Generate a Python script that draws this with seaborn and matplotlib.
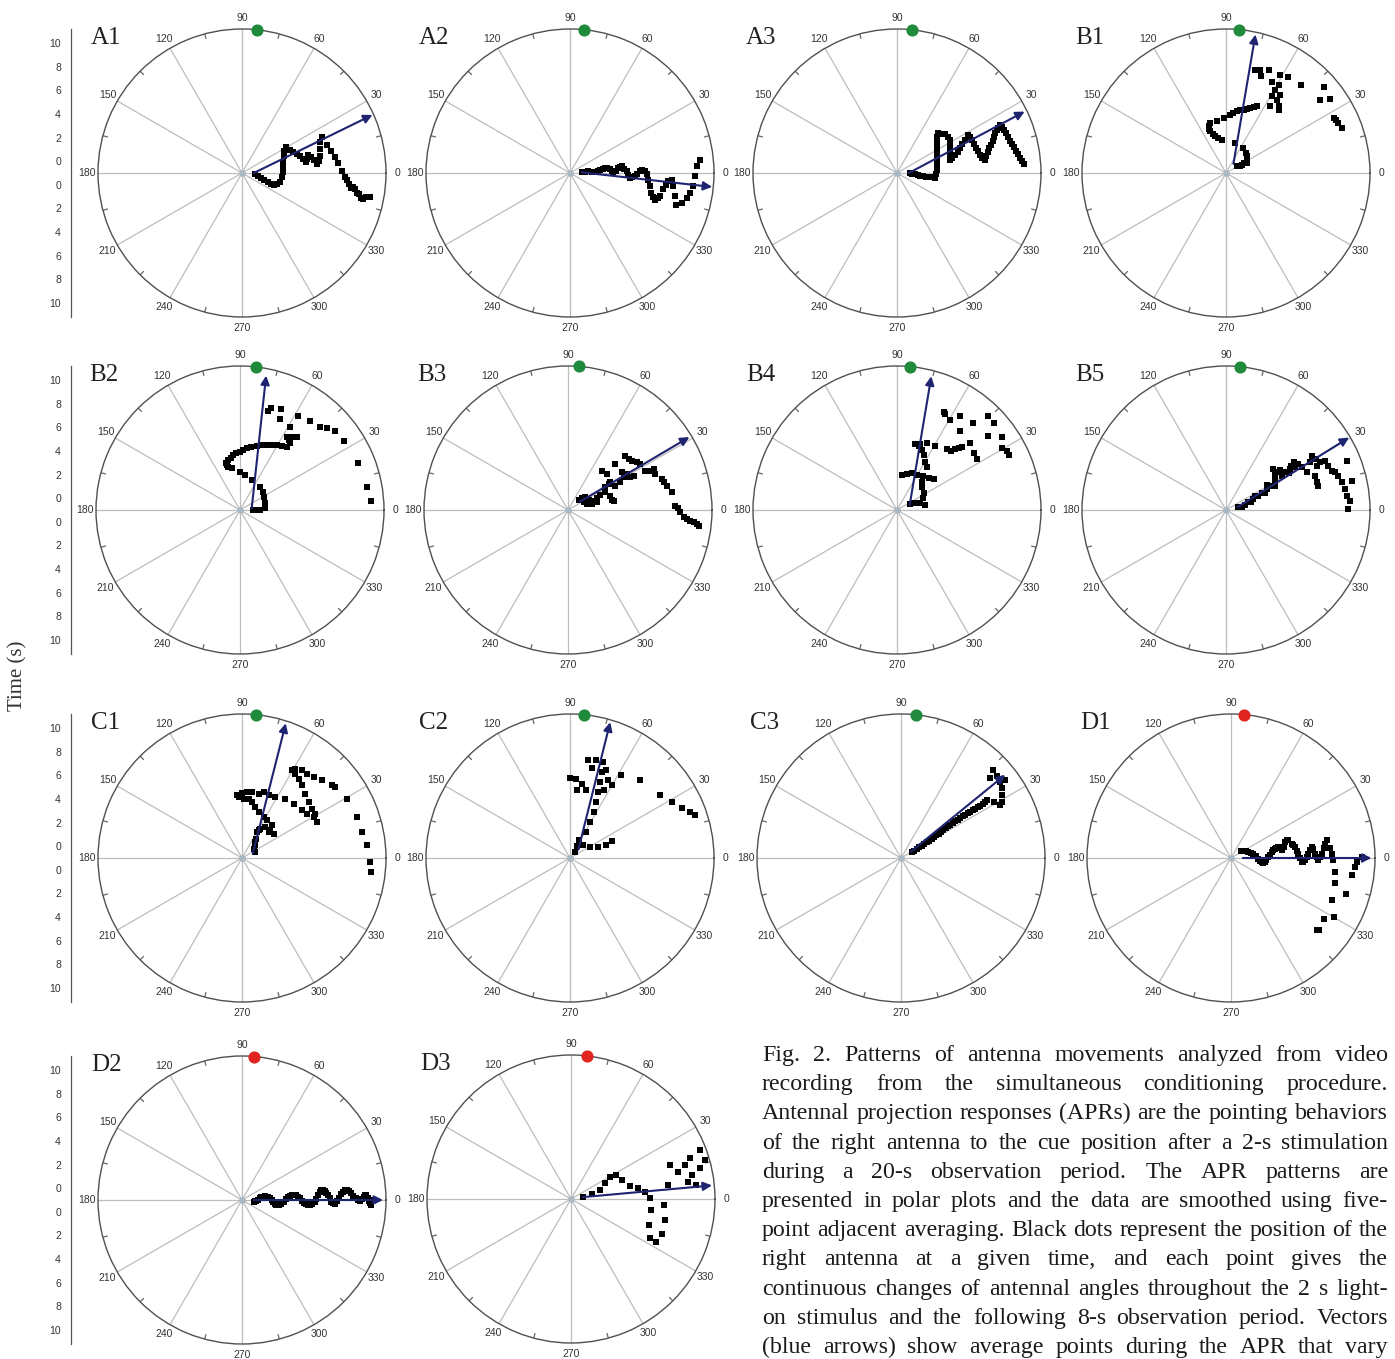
import numpy as np
import matplotlib
matplotlib.use("Agg")
import matplotlib.pyplot as plt
import seaborn as sns

# -----------------------------
# Data: antenna angle (deg) and time (s) for each panel
# -----------------------------

a1_t = [0.1, 0.4, 0.7, 1.0, 1.3, 1.6, 1.9, 2.1, 2.3, 2.4,
        2.45, 2.5, 2.6, 2.8, 3.0, 3.3, 3.5, 3.7, 3.9, 4.1,
        4.3, 4.5, 4.6, 4.8, 5.0, 5.2, 5.4, 5.6, 5.75, 5.9,
        6.1, 6.4, 6.6, 6.8, 7.0, 7.2, 7.45, 7.7, 7.9, 8.1,
        8.3, 8.5, 8.7, 8.9, 9.1, 9.3, 9.5, 9.7, 10.0]
a1_ang = [-3, -10, -15, -18, -20, -21, -20, -18, -13, -6,
          2, 8, 15, 22, 28, 31, 26, 22, 19, 16,
          13, 10, 12, 15, 13, 10, 7, 9, 12, 17,
          22, 24, 18, 14, 10, 6, 1, -2, -4, -6,
          -8, -7, -8, -10, -10, -12, -12, -11, -10.5]

a2_t = [0.0, 0.3, 0.56, 0.85, 1.12, 1.35, 1.56, 1.8, 2.0, 2.2,
        2.4, 2.55, 2.67, 2.9, 3.1, 3.25, 3.4, 3.6, 3.8, 3.95,
        4.1, 4.3, 4.5, 4.7, 4.9, 5.1, 5.36, 5.5, 5.66, 5.9,
        6.1, 6.3, 6.55, 6.75, 6.9, 7.0, 7.2, 7.36, 7.64, 7.8,
        8.1, 8.4, 8.8, 9.1, 9.3, 9.45, 9.6, 9.75, 10.1]
a2_ang = [3, 4, 5, 3, 2, 4, 6, 7, 8, 7,
          6, 3, 0, 3, 6, 7, 7.4, 4, 1.7, -2,
          -4.8, -4, -3, -1, 1.4, 2, 1.3, -1, -4.9, -9,
          -13.8, -16, -17.4, -16, -14.5, -10, -7, -4.8, -3.7, -7.4,
          -12.5, -16.5, -15, -12, -9.5, -6.2, -1.5, 3, 5.9]

a3_t = [0.07, 0.3, 0.5, 0.75, 1.0, 1.25, 1.5, 1.75, 2.0, 2.25,
        2.3, 2.4, 2.48, 2.56, 2.7, 2.9, 3.15, 3.4, 3.6, 3.85,
        4.05, 4.24, 4.3, 4.3, 4.1, 3.9, 3.75, 3.63, 3.85, 4.15,
        4.45, 4.74, 5.05, 5.4, 5.83, 5.9, 5.94, 6.0, 6.02, 6.1,
        6.2, 6.35, 6.54, 6.7, 6.9, 7.1, 7.3, 7.55, 7.77, 8.0,
        8.2, 8.4, 8.63, 8.7, 8.77, 8.83, 8.9, 8.98, 9.05, 9.15,
        9.26, 9.38, 9.5, 9.65, 9.8]
a3_ang = [0, -2, -4, -5.5, -7, -7.5, -8, -7.5, -6, -7.5,
          -1, 4, 11, 18, 24, 30, 35, 39.5, 42, 44,
          41.5, 39, 35, 32, 27.5, 23.5, 18.5, 13.8, 15.5, 17,
          19.5, 21.6, 24, 25.9, 28.2, 26, 23.7, 20.5, 17.6, 15,
          12.2, 10, 8.4, 10.5, 13, 15, 16.6, 18.5, 20.4, 22,
          23.3, 24.2, 25, 23.5, 21.9, 20, 18, 16, 14.2, 12.3,
          10.5, 8.7, 7, 5.5, 4]

b1_t = [0.12, 0.3, 0.53, 0.75, 0.97, 1.1, 1.27, 1.4, 1.56, 1.66,
        1.85, 2.0, 2.24, 2.5, 2.77, 3.0, 3.2, 3.4, 3.45, 3.67,
        3.96, 4.1, 4.3, 4.45, 4.57, 4.7, 4.88, 5.05, 5.23, 6.58,
        7.2, 7.08, 6.57, 6.2, 5.98, 5.78, 8.1, 8.18, 7.77, 8.47,
        8.52, 8.67, 7.62, 7.7, 8.8, 10.07, 9.05, 9.84, 9.25, 9.33,
        9.37, 9.55]
b1_ang = [33.7, 28, 27.5, 30, 25.5, 30, 38.4, 45, 55.8, 72.7,
          96.8, 103, 106, 109, 110.6, 111, 110, 107.4, 99.9, 92.4,
          85.8, 83, 79.9, 77, 74.4, 72, 69.5, 67, 65, 59,
          59.4, 55.3, 55.2, 51.7, 50.3, 56.4, 74.2, 71.5, 70.2, 67.6,
          61, 57.3, 63, 59.2, 49.7, 41.2, 37.8, 35.3, 27, 25.6,
          24.1, 21.2]

b2_t = [0.13, 0.4, 0.7, 1.12, 1.19, 1.35, 1.47, 1.6, 1.73, 2.0,
        2.25, 2.6, 2.8, 2.98, 3.15, 3.35, 3.5, 3.7, 3.8, 3.94,
        4.1, 4.26, 4.4, 4.6, 4.8, 4.95, 5.1, 5.3, 5.5, 5.67,
        6.06, 6.2, 6.37, 6.6, 6.85, 7.23, 8.38, 7.45, 7.76, 8.0,
        8.2, 8.62, 8.79, 9.09, 9.49, 9.62, 9.78, 9.9, 10.1]
b2_ang = [0, 0, 0, 3.8, 15, 28.7, 39, 49.4, 68.7, 81.9,
          90, 101, 105, 106.5, 106, 103, 100, 97, 94, 90,
          87, 83.8, 80, 75.4, 71, 67.7, 64, 60.6, 57, 53.6,
          53.1, 55, 57.5, 54, 52.3, 59, 58.2, 66.3, 74, 73.2,
          68, 51.9, 46.2, 43.3, 39.9, 33.6, 21.5, 10.4, 4.1]

b3_t = [0.28, 0.56, 0.85, 0.95, 1.31, 1.66, 2.03, 2.5, 2.79, 2.95,
        2.7, 3.09, 3.4, 3.5, 4.6, 3.28, 3.51, 4.02, 4.47, 4.58,
        4.86, 4.96, 5.28, 5.69, 5.72, 5.85, 6.11, 6.27, 6.35, 6.73,
        7.05, 7.0, 7.39, 7.44, 7.64, 7.94, 8.1, 8.32, 8.52, 8.82,
        9.11, 9.4, 9.7, 10.0, 10.15, 0.48, 0.69, 1.1, 1.54, 2.82]
b3_ang = [41.4, 40.6, 37.6, 25.8, 20, 22.5, 25.4, 25.3, 18.7, 11.5,
          31.3, 32.6, 49.2, 42.7, 44.2, 33.2, 27.2, 27.9, 30.4, 34.9,
          31.4, 27.7, 27.6, 43.5, 40, 37.6, 34.6, 32.5, 27, 25.5,
          25.6, 22.4, 18.3, 16.1, 13.8, 9.6, 2.3, 1.0, -1.2, -3.6,
          -4.3, -5, -5.6, -6.2, -6.8, 26, 17.5, 14, 14.8, 12.8]

b4_t = [0.24, 0.52, 0.8, 1.06, 1.44, 1.41, 1.66, 1.9, 2.2, 2.0,
        2.17, 2.36, 2.42, 2.63, 2.8, 3.05, 3.47, 3.75, 4.18, 4.5,
        4.73, 4.8, 4.93, 5.2, 5.32, 5.66, 5.8, 6.13, 6.43, 6.69,
        7.4, 7.08, 7.03, 8.22, 8.11, 7.84, 8.57, 7.6, 8.81, 10.07,
        10.04, 8.94, 9.82, 9.32, 9.59, 9.55]
b4_ang = [24.2, 21.8, 20.1, 16, 10, 24.2, 32, 43, 48.6, 81.9,
          74.5, 67.8, 60.3, 52.6, 45, 39.9, 55.3, 59.6, 64.1, 67.4,
          71.3, 74.5, 70.5, 65.8, 59.1, 50.5, 47.7, 46.1, 45.3, 44.3,
          42.3, 36.5, 32.3, 64.6, 63.3, 59.7, 56.3, 51.4, 49, 46,
          42.1, 39.3, 34.7, 30.4, 28.3, 26.2]

b5_t = [0.07, 0.36, 0.67, 1.0, 1.5, 2.0, 2.33, 2.88, 3.38, 3.84,
        4.3, 4.46, 4.54, 4.93, 5.44, 5.88, 6.27, 6.36, 6.55, 7.18,
        7.6, 7.77, 7.55, 7.08, 7.03, 7.09, 7.93, 8.37, 8.45, 8.56,
        8.77, 8.95, 9.08, 9.24, 9.3, 9.54, 9.37, 10.03, 9.92, 1.25,
        1.75, 2.6, 3.1, 3.6, 4.1, 4.7, 5.2, 5.65, 6.05]
b5_ang = [12, 12, 15.7, 18.9, 21.9, 23.9, 25, 27.3, 28, 30.9,
          40.9, 35.7, 31.7, 32.6, 32.6, 31.7, 32.5, 29.4, 25, 29.6,
          32.4, 29.5, 26, 21.1, 17, 14.8, 26.9, 26.5, 23.4, 20.4,
          19.1, 17, 13.5, 10, 6.8, 4.3, 0.5, 22, 12.9, 17,
          25, 24, 31, 26, 35, 36, 30, 34, 35]

c1_t = [0.19, 0.27, 0.56, 0.73, 1.02, 1.54, 1.74, 1.93, 2.29, 2.16,
        2.36, 2.38, 2.8, 2.83, 2.93, 3.15, 3.47, 3.82, 4.06, 4.03,
        4.18, 4.33, 4.54, 4.61, 4.66, 4.63, 4.89, 4.77, 4.89, 5.23,
        5.35, 5.5, 5.67, 6.0, 6.05, 6.26, 6.26, 6.38, 6.65, 6.99,
        7.26, 7.45, 7.55, 7.82, 8.0, 8.02, 8.16, 8.45, 8.8, 8.94,
        9.22, 9.35, 9.4, 9.65, 9.88, 10.03]
c1_ang = [25.3, 38.7, 43.5, 51.6, 54, 60, 59, 58, 53, 44.3,
          44.3, 37.5, 48, 56.4, 62.1, 70.1, 75.3, 79.9, 83.6, 88.4,
          93.1, 94.6, 90, 85.7, 81.4, 75.5, 71.8, 66.9, 61.3, 53.9,
          46.4, 38.5, 34.3, 29.8, 25.6, 31.2, 35.2, 40, 45.5, 50.5,
          54.5, 57.7, 60.3, 59.2, 55.6, 52.4, 48.5, 44.2, 38.9, 37.3,
          29.5, 19.6, 12.2, 5.8, -1.8, -6.2]

c2_t = [-0.3, 0.18, 0.7, 0.56, 0.93, 1.55, 2.24, 2.84, 1.59, 2.49,
        3.4, 4.23, 5.08, 5.92, 6.78, 7.6, 7.59, 7.44, 6.85, 5.78,
        5.71, 5.35, 4.92, 4.8, 7.05, 6.35, 5.44, 6.14, 7.26, 7.88,
        8.31, 8.86, 9.4, 9.89, 10.2]
c2_ang = [50, 60, 63, 45, 29, 21.4, 19.9, 22, 58.4, 61,
          62.4, 65.1, 67, 68.5, 69.6, 71, 75.1, 79.6, 76.3, 90,
          85.7, 80.8, 76.8, 84, 67.7, 64, 63.4, 60.1, 58.4, 48.1,
          35, 28.8, 24, 21, 19]

c3_t = [0.06, 0.3, 0.55, 0.8, 1.05, 1.3, 1.55, 1.8, 2.05, 2.3,
        2.55, 2.8, 3.05, 3.3, 3.55, 3.8, 4.05, 4.3, 4.55, 4.8,
        5.05, 5.3, 5.55, 5.8, 6.05, 6.3, 6.55, 6.8, 7.05, 7.3,
        7.55, 7.8, 8.2, 8.5, 8.8, 9.1, 9.4, 9.58, 9.8, 9.14,
        10.0, 9.7]
c3_ang = [28.6, 29, 29.5, 30, 30.5, 31, 31.3, 31.6, 32, 32.3,
          32.6, 33, 33.2, 33.4, 33.6, 33.8, 34, 34, 34, 34,
          34, 34, 33.8, 33.7, 33.6, 33.5, 33.4, 33.4, 33.5, 33.6,
          33.7, 33.8, 31, 28, 29, 32, 35, 37.5, 43.7, 42,
          36.9, 40.5]

d1_t = [0.0, 0.2, 0.55, 0.93, 1.32, 1.62, 1.9, 2.16, 2.48, 2.81,
        3.12, 3.34, 3.77, 4.08, 4.28, 4.5, 4.72, 5.0, 5.27, 5.56,
        5.9, 6.13, 6.4, 6.7, 7.06, 7.25, 7.43, 7.67, 7.9, 8.06,
        8.23, 9.06, 8.43, 8.64, 8.55, 9.2, 9.33, 9.54, 9.71, 10.07,
        0.4, 0.75, 1.1, 1.45, 1.75, 2.0, 2.3, 2.65, 2.95, 3.25,
        3.55, 3.95, 4.4, 4.6, 4.85, 5.15, 5.4, 5.75, 6.0, 6.25,
        6.55, 6.9, 7.55]
d1_ang = [33.7, 29.6, 19, 11, -1.4, -7.4, -6.7, 1.5, 8.4, 12,
          13.1, 8.6, 16.5, 17.1, 13.3, 9.8, 3.7, -3.2, -1.8, 3.2,
          7.8, 3, -1.5, 2.7, 8.7, 10.5, 6, -1.3, -7.7, -13.5,
          -22.5, -29.8, -33.3, -39, -40, -17.2, -8.2, -4.2, -1.8, 0.4,
          24, 15, 5, -5, -8, -3, 5, 10.5, 13, 11,
          12, 17.5, 11.5, 6.5, 0, -3, 0.5, 6, 6, 0.5,
          0.5, 6, 2]

d2_t = [0.0, 0.22, 0.5, 0.8, 1.08, 1.35, 1.63, 1.94, 2.35, 2.76,
        3.05, 3.4, 3.75, 4.11, 4.46, 4.8, 5.16, 5.45, 5.78, 6.05,
        6.3, 6.57, 6.86, 7.22, 7.59, 7.94, 8.28, 8.63, 8.97, 9.31,
        9.55, 9.76, 9.97, 10.05, 0.1, 0.35, 0.65, 0.95, 1.2, 1.5,
        1.8, 2.15, 2.55, 2.9, 3.22, 3.58, 3.93, 4.28, 4.63, 4.98,
        5.3, 5.62, 5.92, 6.18, 6.43, 6.72, 7.04, 7.4, 7.77, 8.1,
        8.45, 8.8, 9.14, 9.43, 9.65, 9.86]
d2_ang = [-8.6, -2.7, 5.4, 9, 7.8, 3.4, -3.1, -8.3, -5.8, 0.9,
          4.8, 5.5, 3.4, -0.6, -3.6, -4.2, -1.3, 3.8, 7.2, 6.4,
          3.3, -1.1, -2.5, 1, 4.7, 5.4, 3.5, 0.8, -0.3, 1.6,
          2.3, -0.3, -2.2, 0, -6, 1.5, 7.5, 9, 6, 0,
          -6.5, -7.5, -3, 3.2, 5.5, 4.8, 1.5, -2.3, -4.2, -3,
          1, 6, 7.3, 5, 1, -2, -0.8, 3.2, 5.3, 4.6,
          2.2, 0, 0.6, 2.2, 1, -1.5]

d3_t = [0.03, 0.83, 1.58, 2.2, 2.8, 3.32, 3.6, 4.1, 4.75, 5.3,
        5.7, 5.85, 5.97, 6.47, 7.07, 7.26, 7.16, 6.9, 7.3, 7.87,
        8.35, 9.08, 9.67, 9.45, 9.66, 10.2, 10.8, 10.7, 9.0]
d3_ang = [9.5, 13, 17, 25, 29.4, 28, 20.4, 12.4, 9.3, 5.4,
          0.7, -7.8, -18.4, -26.3, -26.8, -21, -12.6, -3.7, 8.2, 19,
          14.2, 16.6, 19, 11.2, 6.4, 13.5, 16.2, 20.8, 8.3]

panel_names = ["A1", "A2", "A3", "B1", "B2", "B3", "B4", "B5",
               "C1", "C2", "C3", "D1", "D2", "D3"]

# mean vector: start angle, start time, end angle, end time
arrow_start_ang = [0, 3, 0, 51, 8, 35, 21, 14, 23, 45, 33, 0, 0, 9]
arrow_start_t = [0, 0, 0, 0, 0, 0.2, 0.15, 0, 0, 0, 0, 0, 0, 0]
arrow_end_ang = [24, -5.6, 25.7, 78, 79, 31, 75.6, 30.5, 72, 73.5, 38.6, 0, 0, 5.5]
arrow_end_t = [11.1, 11.1, 11.0, 11.0, 10.6, 11.0, 10.7, 11.1, 11.0, 11.0, 10.3, 10.9, 10.95, 11.0]

cue_ang = [84, 84.4, 84, 85, 83.5, 85.5, 85, 84.3, 84.5, 84.5, 84.2, 85, 85.1, 83.6]
cue_color = ["green"] * 11 + ["red"] * 3

time_ticks = [0, 2, 4, 6, 8, 10]
angle_ticks = list(range(0, 360, 30))

caption_lines = [
    "Fig. 2. Patterns of antenna movements analyzed from video",
    "recording from the simultaneous conditioning procedure.",
    "Antennal projection responses (APRs) are the pointing behaviors",
    "of the right antenna to the cue position after a 2-s stimulation",
    "during a 20-s observation period. The APR patterns are",
    "presented in polar plots and the data are smoothed using five-",
    "point adjacent averaging. Black dots represent the position of the",
    "right antenna at a given time, and each point gives the",
    "continuous changes of antennal angles throughout the 2 s light-",
    "on stimulus and the following 8-s observation period. Vectors",
    "(blue arrows) show average points during the APR that vary",
]

all_t = [a1_t, a2_t, a3_t, b1_t, b2_t, b3_t, b4_t, b5_t,
         c1_t, c2_t, c3_t, d1_t, d2_t, d3_t]
all_ang = [a1_ang, a2_ang, a3_ang, b1_ang, b2_ang, b3_ang, b4_ang, b5_ang,
           c1_ang, c2_ang, c3_ang, d1_ang, d2_ang, d3_ang]

# -----------------------------
# Layout (pixel positions of panel centres)
# -----------------------------

W, H = 1395, 1359
centers = [(242, 173), (570, 173), (897, 173), (1226, 173),
           (240, 510), (568, 510), (897, 510), (1226, 510),
           (242, 858), (570, 858), (901, 858), (1231, 858),
           (242, 1200), (571, 1199)]
R_PX = 144
TMIN, TMAX = -1.0, 11.2

sns.set_style("white")
plt.rcParams['font.family'] = ['Liberation Sans', 'DejaVu Sans']

fig = plt.figure(figsize=(W / 100, H / 100), dpi=100)


def fx(px):
    return px / W


def fy(py):
    return 1 - py / H


def polar_panel(i):
    cx, cy = centers[i]
    ax = fig.add_axes([fx(cx - R_PX), fy(cy + R_PX), 2 * R_PX / W, 2 * R_PX / H],
                      projection='polar')
    ax.set_facecolor('none')
    ax.set_theta_zero_location('E')
    ax.set_ylim(TMIN, TMAX)
    ax.set_yticks([])
    ax.set_xticks(np.deg2rad(angle_ticks))
    ax.set_xticklabels([str(d) for d in angle_ticks], fontsize=7.5, color='#333333')
    ax.tick_params(axis='x', which='major', length=0, pad=1)
    ax.xaxis.grid(True, color='#bdbdbd', lw=0.9)
    ax.yaxis.grid(False)
    ax.spines['polar'].set_color('#505050')
    ax.spines['polar'].set_linewidth(1.0)

    # small inward tick marks on the rim, halfway between the grid lines
    for d in angle_ticks:
        th = np.deg2rad(d + 15)
        ax.plot([th, th], [TMAX - 0.4, TMAX], color='#666666', lw=0.9, zorder=2)

    sns.scatterplot(x=np.deg2rad(all_ang[i]), y=all_t[i], ax=ax, marker='s',
                    color='black', s=20, linewidth=0, zorder=3)
    ax.set_xlabel('')
    ax.set_ylabel('')

    ax.scatter([0], [TMIN], s=14, color='#a8b8c4', zorder=4, clip_on=False)

    ax.annotate('', xy=(np.deg2rad(arrow_end_ang[i]), arrow_end_t[i]),
                xytext=(np.deg2rad(arrow_start_ang[i]), arrow_start_t[i]),
                arrowprops=dict(arrowstyle='-|>', color='#1f2470', lw=1.5,
                                mutation_scale=13, shrinkA=0, shrinkB=0),
                annotation_clip=False, zorder=5)

    col = '#1f8a3c' if cue_color[i] == 'green' else '#e0251f'
    ax.scatter([np.deg2rad(cue_ang[i])], [TMAX], s=60, color=col, zorder=6,
               clip_on=False)

    fig.text(fx(cx - 151), fy(cy - 146), panel_names[i], fontsize=18,
             family='Liberation Serif', color='#222222', ha='left', va='top')


def time_axis(cy):
    ax = fig.add_axes([fx(70.7), fy(cy + R_PX), 0.0005, 2 * R_PX / H])
    ax.set_facecolor('none')
    ax.set_ylim(-(TMAX - TMIN), TMAX - TMIN)
    pos = [t - TMIN for t in time_ticks] + [-(t - TMIN) for t in time_ticks]
    ax.set_yticks(pos)
    ax.set_yticklabels([str(t) for t in time_ticks] * 2, fontsize=7.5,
                       color='#333333')
    minor = [k - TMIN for k in range(0, 12)] + [-(k - TMIN) for k in range(0, 12)]
    ax.set_yticks(minor, minor=True)
    ax.set_xticks([])
    ax.tick_params(axis='y', which='major', length=5, width=0.8, color='#555555', pad=2)
    ax.tick_params(axis='y', which='minor', length=2.5, width=0.7, color='#555555')
    for s in ['top', 'right', 'bottom']:
        ax.spines[s].set_visible(False)
    ax.spines['left'].set_color('#555555')
    ax.spines['left'].set_linewidth(0.9)


for i in range(len(panel_names)):
    polar_panel(i)

for cy in [173, 510, 858, 1200]:
    time_axis(cy)

fig.text(fx(18), fy(676), 'Time (s)', rotation=90, fontsize=15,
         family='Liberation Serif', color='#333333', ha='center', va='center')

# justified caption, font size fitted to the tightest line
renderer = fig.canvas.get_renderer()
x_left, x_right = 762, 1388
probe = fig.text(0, 0, caption_lines[2], fontsize=16, family='Liberation Serif')
natural = probe.get_window_extent(renderer).width
probe.remove()
cap_size = 16 * (x_right - x_left) * 0.995 / natural

for k, line in enumerate(caption_lines):
    base = 1061 + 29.2 * k
    words = line.split(' ')
    texts = [fig.text(0, fy(base), w, fontsize=cap_size, family='Liberation Serif',
                      color='#1a1a1a', ha='left', va='baseline') for w in words]
    widths = [t.get_window_extent(renderer).width for t in texts]
    gap = (x_right - x_left - sum(widths)) / (len(words) - 1)
    x = x_left
    for t, w in zip(texts, widths):
        t.set_x(fx(x))
        x += w + gap

fig.savefig("out.png", dpi=100)
